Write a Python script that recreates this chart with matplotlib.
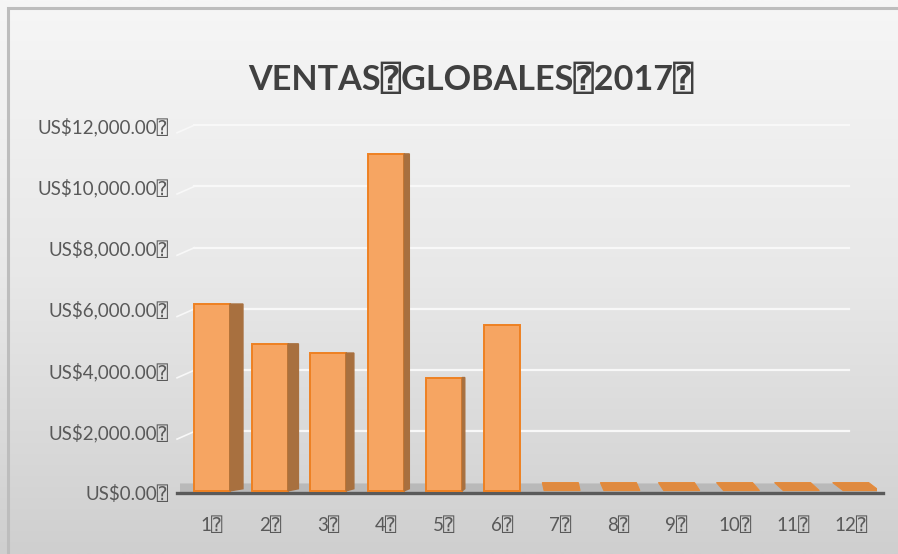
import matplotlib
matplotlib.use("Agg")
import matplotlib.pyplot as plt
import numpy as np
from matplotlib.colors import LinearSegmentedColormap
from matplotlib.patches import Rectangle

plt.rcParams['font.family'] = ['Lato', 'DejaVu Sans', 'DejaVu Sans Mono']

# data
months = ['1', '2', '3', '4', '5', '6', '7', '8', '9', '10', '11', '12']
ventas = [6100, 4800, 4500, 11000, 3700, 5400, 0, 0, 0, 0, 0, 0]
yticks = [0, 2000, 4000, 6000, 8000, 10000, 12000]
box = '\u2370'
title = 'VENTAS' + box + 'GLOBALES' + box + '2017' + box

fig = plt.figure(figsize=(8.98, 5.54), dpi=100)

# background gradient and border
bg = fig.add_axes([0, 0, 1, 1], zorder=-5)
grad = np.linspace(0, 1, 256).reshape(-1, 1)
cmap = LinearSegmentedColormap.from_list('bg', ['#f6f6f6', '#e8e8e8', '#cfcfcf'])
bg.imshow(grad, aspect='auto', cmap=cmap, extent=[0, 1, 0, 1], origin='upper')
bg.add_patch(Rectangle((8 / 898, -0.1), 1.2, 1 - 8 / 554 + 0.1, fill=False,
                       edgecolor='#bdbdbd', linewidth=2.2))
bg.set_xlim(0, 1)
bg.set_ylim(0, 1)
bg.axis('off')

ax = fig.add_axes([0.2004, 0.0885, 0.776, 0.694])
ax.set_facecolor('none')
x = np.arange(len(months))
w = 0.62

# wall gridlines
for t in yticks[1:]:
    ax.axhline(t, xmin=0.02, xmax=0.96, color='#f8f8f8', lw=1.6, zorder=1)
    ax.plot([-0.6, -0.3], [t - 250, t], color='#f8f8f8', lw=1.2, clip_on=False, zorder=1)

# floor
ax.fill([-0.55, 11.0, 11.55, -0.55], [280, 280, 0, 0], color='#b9b9b9', zorder=2)
ax.plot([-0.6, 11.55], [0, 0], color='#5a5a5a', lw=2.4, zorder=3, clip_on=False)

face = '#f6a562'
edge = '#ee8122'
side = '#a8703f'
view = 5.0
for xi, v in zip(x, ventas):
    d = max(view - xi, 0) * 0.045
    if v > 0:
        ax.bar(xi, v, width=w, bottom=60, color=face, edgecolor=edge, linewidth=1.4, zorder=4)
        if d > 0:
            ax.fill([xi + w / 2, xi + w / 2 + d, xi + w / 2 + d, xi + w / 2],
                    [60, 130, v + 60, v + 60], color=side, zorder=4)
    else:
        s = (xi - view) * 0.03
        ax.fill([xi - w / 2 + s, xi + w / 2 + s, xi + w / 2, xi - w / 2],
                [70, 70, 330, 330], color='#df8a40', edgecolor='#e58a3a', lw=0.8, zorder=4)

ax.set_xlim(-0.55, 11.45)
ax.set_ylim(-400, 12150)
ax.set_yticks(yticks)
ax.set_yticklabels(['US${:,.2f}'.format(t) + box for t in yticks])
ax.set_xticks(x)
ax.set_xticklabels([m + box for m in months])
ax.tick_params(axis='both', length=0, labelsize=13.5, labelcolor='#595959')
ax.tick_params(axis='y', pad=8)
ax.tick_params(axis='x', pad=8)
for s in ax.spines.values():
    s.set_visible(False)

fig.text(0.524, 0.856, title, ha='center', va='center', fontsize=24.6,
         fontweight='bold', color='#404040')

fig.savefig('out.png', dpi=100)
